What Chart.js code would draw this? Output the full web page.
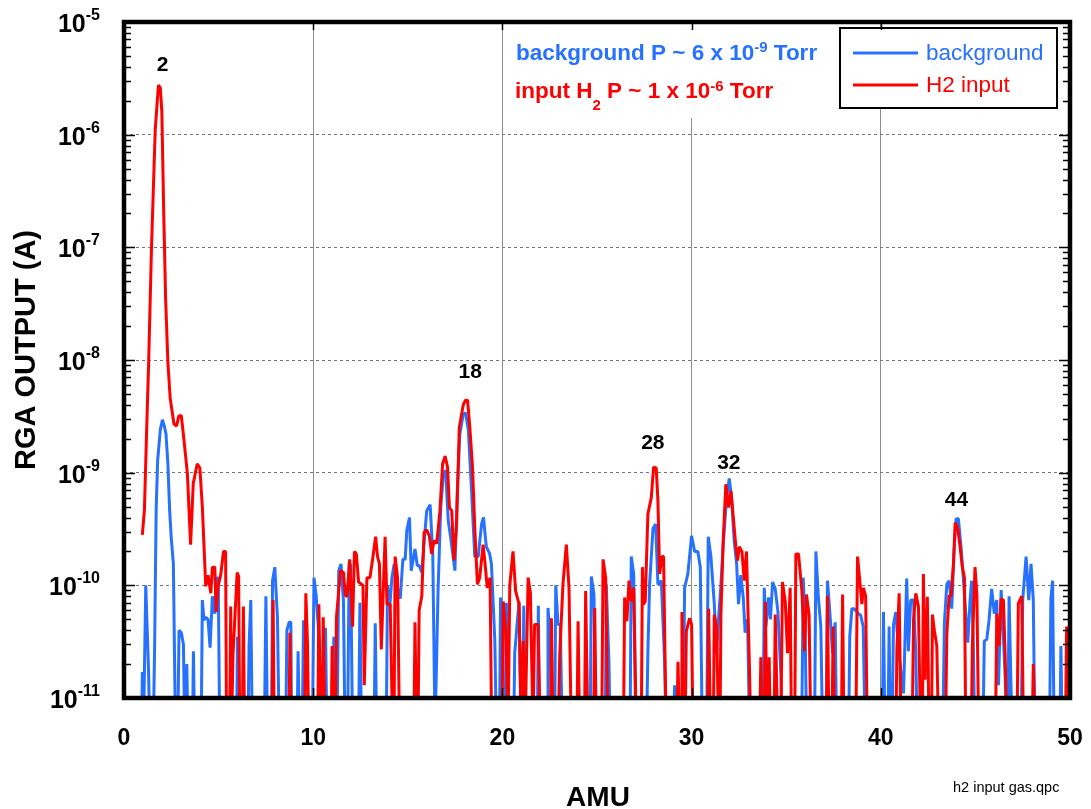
<!DOCTYPE html>
<html>
<head>
<meta charset="utf-8">
<title>RGA output - H2 input gas</title>
<script src="https://cdn.jsdelivr.net/npm/chart.js@4.4.1/dist/chart.umd.min.js"></script>
<style>
  html, body { margin: 0; padding: 0; background: #fff; }
  #wrap { width: 1091px; height: 809px; }
</style>
</head>
<body>
<div id="wrap"><canvas id="rga" width="1091" height="809"></canvas></div>
<script>
'use strict';

// ---- scan data: [AMU, current (A)]; 5e-12 = below the 1e-11 floor ----
const backgroundScan = [
  [0.93,5e-12],[0.97,1.7e-11],[1.03,5e-12],[1.15,1e-10],[1.3,1.7e-11],[1.36,5e-12],[1.55,5e-12],[1.62,3e-11],
  [1.7,4.7e-10],[1.78,1.3e-9],[1.92,2.4e-9],[2.03,2.95e-9],[2.13,2.6e-9],[2.22,2.2e-9],[2.32,1.2e-9],[2.41,4.7e-10],
  [2.5,2.6e-10],[2.61,1.55e-10],[2.72,5e-12],[2.84,5e-12],[2.91,4e-11],[3.03,3.8e-11],[3.14,3e-11],[3.21,5e-12],
  [3.28,5e-12],[3.32,2e-11],[3.38,5e-12],[3.62,5e-12],[3.67,2.6e-11],[3.73,5e-12],[4.08,5e-12],[4.14,7.4e-11],
  [4.23,4.9e-11],[4.32,5.2e-11],[4.44,5e-11],[4.55,2.8e-11],[4.67,8e-11],[4.8,5.6e-11],[4.9,1.17e-10],[4.98,1.15e-10],
  [5.06,5e-12],[5.95,5e-12],[6.0,3.5e-11],[6.06,5e-12],[6.55,5e-12],[6.61,2.9e-11],[6.7,7.4e-11],[6.78,5e-12],
  [7.42,5e-12],[7.5,8e-11],[7.58,5e-12],[7.8,5e-12],[7.85,1.1e-10],[7.97,1.45e-10],[8.11,5.2e-11],[8.2,5e-12],
  [8.55,5e-12],[8.61,4e-11],[8.73,4.7e-11],[8.82,4.7e-11],[8.86,5e-12],[9.15,5e-12],[9.2,2.6e-11],[9.27,5e-12],
  [9.42,5e-12],[9.49,4.9e-11],[9.58,5e-12],[9.96,5e-12],[10.04,1.17e-10],[10.16,8e-11],[10.28,4e-11],[10.36,5e-12],
  [10.58,5e-12],[10.65,4.2e-11],[10.72,5e-12],[11.02,5e-12],[11.09,3.5e-11],[11.16,5e-12],[11.26,5e-12],[11.35,1.35e-10],
  [11.47,1.55e-10],[11.6,7.2e-11],[11.68,5e-12],[11.82,5e-12],[11.9,1.6e-10],[11.98,1.5e-10],[12.08,5e-12],[12.4,5e-12],
  [12.47,7e-11],[12.55,5e-12],[13.22,5e-12],[13.28,4.6e-11],[13.35,5e-12],[13.86,5e-12],[13.93,1e-10],[14.05,6.5e-11],
  [14.16,1.17e-10],[14.28,1.55e-10],[14.42,1e-10],[14.6,7.6e-11],[14.74,1.7e-10],[14.86,1.7e-10],[14.95,3.1e-10],[15.09,4e-10],
  [15.18,1.35e-10],[15.38,2.1e-10],[15.5,1.5e-10],[15.6,1.5e-10],[15.74,1.3e-10],[15.86,2.4e-10],[16.0,4.6e-10],[16.18,5.2e-10],
  [16.32,1.9e-10],[16.44,5e-12],[16.6,9e-11],[16.74,4.9e-10],[16.88,9.8e-10],[17.0,1.05e-9],[17.14,3.7e-10],[17.26,2.7e-10],
  [17.49,1.35e-10],[17.61,6.5e-10],[17.75,2.2e-9],[17.93,3.3e-9],[18.05,3.4e-9],[18.2,2.4e-9],[18.37,6.9e-10],[18.54,1.8e-10],
  [18.72,1.8e-10],[18.9,3.5e-10],[19.0,4e-10],[19.15,2.2e-10],[19.33,1.9e-10],[19.42,1.55e-10],[19.6,3.2e-11],[19.68,5e-12],
  [19.85,5e-12],[19.9,7.8e-11],[19.97,5e-12],[20.14,5e-12],[20.21,7e-11],[20.3,5e-12],[20.6,5e-12],[20.65,2.5e-11],
  [20.88,7.2e-11],[20.98,5e-12],[21.08,5e-12],[21.13,6.6e-11],[21.2,5e-12],[21.85,5e-12],[21.9,6.6e-11],[21.96,5e-12],
  [22.36,5e-12],[22.41,6.3e-11],[22.54,3.2e-11],[22.66,5e-12],[22.76,5e-12],[22.82,1e-10],[22.94,4.5e-11],[23.06,4.5e-11],
  [23.16,5e-12],[24.64,5e-12],[24.7,1.2e-10],[24.84,8.3e-11],[24.93,5e-12],[25.44,5e-12],[25.49,1.02e-10],[25.63,2.1e-11],
  [25.7,5e-12],[26.75,5e-12],[26.81,1.8e-10],[26.94,1.26e-10],[27.05,5e-12],[27.62,5e-12],[27.69,2.6e-11],[27.78,1.02e-10],
  [27.96,3.2e-10],[28.1,3.5e-10],[28.22,1.02e-10],[28.4,1.1e-10],[28.57,2.2e-11],[28.65,5e-12],[29.05,5e-12],[29.1,1.3e-11],
  [29.16,5e-12],[29.55,5e-12],[29.63,9.5e-11],[29.8,1.26e-10],[30.0,2.75e-10],[30.16,2e-10],[30.33,2e-10],[30.46,1.45e-10],
  [30.56,5e-12],[30.8,5e-12],[30.88,2.7e-10],[31.02,1.8e-10],[31.2,6.8e-11],[31.32,2.5e-11],[31.43,5.2e-11],[31.55,1e-10],
  [31.67,2.3e-10],[31.85,6e-10],[31.99,8.9e-10],[32.11,6e-10],[32.25,2.5e-10],[32.38,1.55e-10],[32.48,6.8e-11],[32.6,1.23e-10],
  [32.73,7.8e-11],[32.83,3.8e-11],[32.96,5e-11],[33.06,5e-12],[33.78,5e-12],[33.84,9.5e-11],[33.93,4.3e-11],[34.07,7.8e-11],
  [34.17,5e-11],[34.28,1.07e-10],[34.42,9.3e-11],[34.56,5.9e-11],[34.72,1.6e-11],[34.78,5e-12],[35.82,5e-12],[35.9,1.17e-10],
  [36.0,4e-11],[36.08,5e-12],[36.5,5e-12],[36.57,2e-10],[36.7,7.8e-11],[36.83,4.3e-11],[36.92,5e-12],[37.12,5e-12],
  [37.18,1.1e-10],[37.3,6e-11],[37.45,2.5e-11],[37.59,4.7e-11],[37.66,5e-12],[38.3,5e-12],[38.36,3.5e-11],[38.47,6.2e-11],
  [38.59,6.2e-11],[38.77,5.7e-11],[38.94,5.4e-11],[39.07,4.3e-11],[39.17,5e-12],[40.08,5e-12],[40.14,5.8e-11],[40.22,5e-12],
  [40.38,5e-12],[40.44,4.3e-11],[40.5,5e-12],[40.6,5e-12],[40.67,4.5e-11],[40.79,5.8e-11],[40.95,2.5e-11],[41.2,1.1e-11],
  [41.37,1.15e-10],[41.46,2.6e-11],[41.58,7.4e-11],[41.73,7.4e-11],[41.85,2.5e-11],[41.92,5e-12],[43.28,5e-12],[43.36,4.6e-11],
  [43.49,1.02e-10],[43.61,1.1e-10],[43.75,6.2e-11],[43.87,2e-10],[43.98,3.9e-10],[44.1,3.9e-10],[44.24,2.2e-10],[44.37,1.1e-10],
  [44.49,5.6e-11],[44.6,3.1e-11],[44.72,7.4e-11],[44.8,1.1e-10],[44.89,3e-11],[44.96,5e-12],[45.4,5e-12],[45.47,3.2e-11],
  [45.6,3.3e-11],[45.72,4.9e-11],[45.86,9.3e-11],[46.0,5.6e-11],[46.13,7.4e-11],[46.22,1.3e-11],[46.36,9.1e-11],[46.48,3.5e-11],
  [46.6,1.2e-11],[46.66,5e-12],[46.72,5e-12],[46.78,8e-11],[46.88,1.3e-11],[46.95,5e-12],[47.42,5e-12],[47.5,7.4e-11],
  [47.68,1.8e-10],[47.82,7.4e-11],[47.94,1.55e-10],[48.06,7.4e-11],[48.14,5e-12],[48.92,5e-12],[48.99,7.6e-11],[49.08,1.1e-10],
  [49.16,5e-12],[49.47,5e-12],[49.52,2.9e-11],[49.58,5e-12],[50.0,5e-12]
];

const h2Scan = [
  [0.97,2.8e-10],[1.08,4.7e-10],[1.2,2.5e-9],[1.3,9e-9],[1.45,9.5e-8],[1.65,1.1e-6],[1.82,2.75e-6],[1.92,2.6e-6],
  [2.0,1.6e-6],[2.1,2e-7],[2.2,3.5e-8],[2.32,9.5e-9],[2.44,4.6e-9],[2.64,2.7e-9],[2.78,2.6e-9],[2.9,3.2e-9],
  [3.03,3.2e-9],[3.17,1.95e-9],[3.35,9.8e-10],[3.52,2.3e-10],[3.66,8e-10],[3.87,1.2e-9],[4.01,1.1e-9],[4.14,5e-10],
  [4.32,9.8e-11],[4.44,1.23e-10],[4.59,8.5e-11],[4.67,1.45e-10],[4.8,1.45e-10],[4.87,5.8e-11],[4.97,9.8e-11],[5.11,1.23e-10],
  [5.26,2e-10],[5.37,2e-10],[5.42,5e-12],[5.58,5e-12],[5.64,6.5e-11],[5.68,5e-12],[5.76,2.4e-11],[5.98,1.3e-10],
  [6.06,1.2e-10],[6.12,5e-12],[6.26,5e-12],[6.31,6.5e-11],[6.37,5e-12],[7.82,5e-12],[7.88,7.4e-11],[7.94,5e-12],
  [8.72,5e-12],[8.77,3.8e-11],[8.82,5e-12],[9.55,5e-12],[9.61,8.5e-11],[9.7,3e-11],[9.76,5e-12],[10.24,5e-12],
  [10.3,6.8e-11],[10.4,5e-12],[10.48,5e-12],[10.53,5.2e-11],[10.62,5e-12],[10.95,5e-12],[11.0,2.9e-11],[11.06,5e-12],
  [11.16,5e-12],[11.23,5.2e-11],[11.44,1.35e-10],[11.6,1.3e-10],[11.7,8.1e-11],[11.79,8e-11],[11.93,1.7e-10],[12.08,4.3e-11],
  [12.18,2e-10],[12.28,1.9e-10],[12.4,1.07e-10],[12.63,1e-10],[12.7,1.3e-11],[12.84,1.17e-10],[13.0,1.17e-10],[13.16,1.8e-10],
  [13.3,2.7e-10],[13.4,1.8e-10],[13.5,1.55e-10],[13.6,2.7e-11],[13.8,2.7e-10],[13.9,6.8e-11],[14.07,6.8e-11],[14.2,5e-12],
  [14.27,5e-12],[14.33,1.8e-10],[14.46,1.17e-10],[14.56,5e-12],[15.32,5e-12],[15.38,4.7e-11],[15.46,5e-12],[15.54,5e-12],
  [15.6,6e-11],[15.74,8e-11],[15.86,2.95e-10],[16.0,3.1e-10],[16.14,2.75e-10],[16.26,1.9e-10],[16.39,2.5e-10],[16.53,2.35e-10],
  [16.7,4.6e-10],[16.84,1.2e-9],[16.97,1.4e-9],[17.1,1.12e-9],[17.2,4.9e-10],[17.32,4.6e-10],[17.44,1.66e-10],[17.58,3.5e-10],
  [17.72,2.5e-9],[17.93,4e-9],[18.05,4.4e-9],[18.16,4.4e-9],[18.28,2.5e-9],[18.42,1.12e-9],[18.54,3.2e-10],[18.68,1.02e-10],
  [18.8,1.17e-10],[18.98,2.3e-10],[19.1,1.45e-10],[19.2,9.5e-11],[19.35,1.17e-10],[19.43,5e-12],[19.98,5e-12],[20.04,7.2e-11],
  [20.18,4.2e-11],[20.3,5e-12],[20.39,1e-10],[20.56,2e-10],[20.7,8.9e-11],[20.88,6.8e-11],[21.0,5e-12],[21.1,3.2e-11],
  [21.2,5e-12],[21.36,1.17e-10],[21.48,8.5e-11],[21.62,5e-12],[21.7,4.5e-11],[21.88,4.5e-11],[22.0,5e-12],[22.54,5e-12],
  [22.59,5.1e-11],[22.68,5e-12],[22.95,5e-12],[23.03,2.4e-11],[23.2,1.02e-10],[23.38,2.3e-10],[23.52,9.5e-11],[23.64,5e-12],
  [23.94,5e-12],[24.0,4.8e-11],[24.08,5e-12],[24.34,5e-12],[24.4,8.9e-11],[24.52,5e-12],[24.82,5e-12],[24.88,6.3e-11],
  [24.96,5e-12],[25.25,5e-12],[25.32,1.7e-10],[25.46,1.17e-10],[25.58,5e-12],[26.4,5e-12],[26.46,7.8e-11],[26.58,4.8e-11],
  [26.69,1.1e-10],[26.81,7.2e-11],[26.94,9.5e-11],[27.08,5e-12],[27.34,5e-12],[27.4,1.45e-10],[27.46,6.8e-11],[27.55,7.2e-11],
  [27.69,4.3e-10],[27.87,6e-10],[27.99,1.12e-9],[28.13,1.1e-9],[28.22,5.6e-10],[28.31,1.26e-10],[28.43,1.8e-10],[28.52,1.8e-10],
  [28.59,2.6e-11],[28.66,5e-12],[29.22,5e-12],[29.28,2.1e-11],[29.37,5e-12],[29.44,5e-12],[29.49,5.8e-11],[29.56,5e-12],
  [29.66,5e-12],[29.72,3.9e-11],[29.89,5.1e-11],[30.0,4.5e-11],[30.07,5e-12],[30.84,5e-12],[30.9,6.2e-11],[31.0,5e-12],
  [31.15,5e-12],[31.2,5.5e-11],[31.32,4.2e-11],[31.43,5e-12],[31.5,5e-12],[31.55,5.5e-11],[31.67,2.5e-10],[31.81,7.9e-10],
  [31.95,4.9e-10],[32.08,6.9e-10],[32.2,4.1e-10],[32.34,2.2e-10],[32.43,1.66e-10],[32.52,2.2e-10],[32.66,2e-10],[32.78,1.1e-10],
  [32.9,2e-10],[33.05,2.1e-11],[33.13,5e-12],[33.6,5e-12],[33.66,2.3e-11],[33.72,5e-12],[33.85,5e-12],[33.9,7.1e-11],
  [33.98,5e-12],[34.06,5e-12],[34.1,2.3e-11],[34.16,5e-12],[34.36,5e-12],[34.42,5.5e-11],[34.55,5e-12],[34.72,5e-12],
  [34.8,1.07e-10],[34.95,7.2e-11],[35.07,2.5e-11],[35.21,9.5e-11],[35.28,5e-12],[35.45,5e-12],[35.51,1.9e-10],[35.65,1.9e-10],
  [35.83,8.9e-11],[35.97,2.6e-11],[36.07,8.3e-11],[36.21,5.5e-11],[36.3,5e-12],[37.12,5e-12],[37.18,8.1e-11],[37.26,5e-12],
  [37.42,5e-12],[37.48,4.3e-11],[37.55,5e-12],[37.92,5e-12],[37.98,8.3e-11],[38.05,5e-12],[38.68,5e-12],[38.77,1.8e-10],
  [38.89,1.1e-10],[39.0,6.8e-11],[39.08,9.5e-11],[39.2,8e-11],[39.28,5e-12],[40.8,5e-12],[40.85,2.7e-11],[40.97,8.5e-11],
  [41.07,5e-12],[41.66,5e-12],[41.73,4.9e-11],[41.85,8.5e-11],[41.99,6.5e-11],[42.1,5e-12],[42.2,5e-12],[42.25,1.26e-10],
  [42.34,1.45e-11],[42.46,7.9e-11],[42.55,5e-12],[42.68,5e-12],[42.73,5.5e-11],[42.83,4e-11],[42.96,2.9e-11],[43.05,5e-12],
  [43.42,5e-12],[43.49,3.7e-11],[43.61,8.1e-11],[43.72,8.1e-11],[43.84,1.55e-10],[43.93,3.6e-10],[44.07,3.2e-10],[44.19,2.2e-10],
  [44.31,1.45e-10],[44.42,1.17e-10],[44.49,5e-12],[44.78,5e-12],[44.84,2.9e-11],[44.98,1.45e-10],[45.08,8.1e-11],[45.17,5e-12],
  [46.06,5e-12],[46.13,5.6e-11],[46.25,2.9e-11],[46.36,7.6e-11],[46.48,7.4e-11],[46.57,2.5e-11],[46.66,5e-12],[47.2,5e-12],
  [47.27,6.9e-11],[47.45,8e-11],[47.54,5e-12],[48.0,5e-12],[48.06,2e-11],[48.15,5e-12],[49.76,5e-12],[49.82,4.3e-11],
  [49.9,5e-12]
];

const seriesNames = ['background', 'H2 input'];
const amuTicks = [0, 10, 20, 30, 40, 50];
const decadeExps = [-5, -6, -7, -8, -9, -10, -11];

// peak annotations (label text, AMU, label height in A)
const peakNames = ['2', '18', '28', '32', '44'];
const peakAmu = [2.04, 18.3, 27.95, 31.97, 44.0];
const peakLabelAt = [4.1e-6, 7.8e-9, 1.84e-9, 1.22e-9, 5.7e-10];

const BLUE = '#2672ff';
const RED = '#ff0000';
const FONT = '"Liberation Sans", Arial, Helvetica, sans-serif';

// draw a run of text pieces (normal / superscript / subscript)
function richText(ctx, parts, x, y, color) {
  ctx.fillStyle = color;
  ctx.textBaseline = 'alphabetic';
  ctx.textAlign = 'left';
  parts.forEach(p => {
    ctx.font = p.font;
    ctx.fillText(p.t, x, y + (p.dy || 0));
    x += ctx.measureText(p.t).width;
  });
}

const overlay = {
  id: 'overlay',
  afterDraw(chart) {
    const { ctx, chartArea: a } = chart;
    const xs = chart.scales.x, ys = chart.scales.y;
    ctx.save();

    // white box behind the pressure notes
    ctx.fillStyle = '#fff';
    ctx.fillRect(508, a.top + 2, 324, 94);

    const big = 'bold 22.5px ' + FONT, sup = 'bold 15px ' + FONT;
    richText(ctx, [
      { t: 'background P ~ 6 x 10', font: big },
      { t: '-9', font: sup, dy: -8 },
      { t: ' Torr', font: big }
    ], 516, 60, BLUE);
    richText(ctx, [
      { t: 'input H', font: big },
      { t: '2', font: sup, dy: 12 },
      { t: ' P ~ 1 x 10', font: big },
      { t: '-6', font: sup, dy: -7 },
      { t: ' Torr', font: big }
    ], 515, 98, RED);

    // legend
    ctx.fillStyle = '#fff';
    ctx.fillRect(840, 28, 217, 80);
    ctx.strokeStyle = '#000';
    ctx.lineWidth = 2;
    ctx.strokeRect(840, 28, 217, 80);
    [BLUE, RED].forEach((c, i) => {
      const ly = 53 + i * 32;
      ctx.strokeStyle = c;
      ctx.lineWidth = 3;
      ctx.beginPath(); ctx.moveTo(853, ly); ctx.lineTo(918, ly); ctx.stroke();
      ctx.fillStyle = c;
      ctx.font = '22.5px ' + FONT;
      ctx.textBaseline = 'middle';
      ctx.textAlign = 'left';
      ctx.fillText(seriesNames[i], 926, ly + 1);
    });

    // frame
    ctx.strokeStyle = '#000';
    ctx.lineWidth = 4.5;
    ctx.strokeRect(a.left, a.top, a.right - a.left, a.bottom - a.top);

    // log ticks on left and right edges, AMU ticks top and bottom
    ctx.lineWidth = 1.5;
    ctx.beginPath();
    for (let e = -11; e < -5; e++) {
      for (let m = 1; m <= 9; m++) {
        const py = Math.round(ys.getPixelForValue(m * Math.pow(10, e))) + 0.5;
        const len = m === 1 ? 11 : 7;
        ctx.moveTo(a.left, py); ctx.lineTo(a.left + len, py);
        ctx.moveTo(a.right, py); ctx.lineTo(a.right - len, py);
      }
    }
    amuTicks.slice(1, -1).forEach(v => {
      const px = Math.round(xs.getPixelForValue(v)) + 0.5;
      ctx.moveTo(px, a.bottom); ctx.lineTo(px, a.bottom - 10);
      ctx.moveTo(px, a.top); ctx.lineTo(px, a.top + 8);
    });
    ctx.stroke();

    // y tick labels 10^n
    ctx.fillStyle = '#000';
    ctx.textAlign = 'left';
    ctx.textBaseline = 'alphabetic';
    decadeExps.forEach(e => {
      const py = ys.getPixelForValue(Math.pow(10, e));
      const s = String(e);
      ctx.font = 'bold 16px ' + FONT;
      const sw = ctx.measureText(s).width;
      ctx.font = 'bold 25px ' + FONT;
      const bw = ctx.measureText('10').width;
      ctx.fillText('10', 100 - sw - bw, py + 10);
      ctx.font = 'bold 16px ' + FONT;
      ctx.fillText(s, 100 - sw, py - 2);
    });

    // axis titles
    ctx.font = 'bold 29px ' + FONT;
    ctx.textAlign = 'center';
    ctx.textBaseline = 'middle';
    ctx.save();
    ctx.translate(27, 350);
    ctx.rotate(-Math.PI / 2);
    ctx.fillText('RGA OUTPUT (A)', 0, 0);
    ctx.restore();
    ctx.font = 'bold 28px ' + FONT;
    ctx.textBaseline = 'alphabetic';
    ctx.fillText('AMU', 598, 806);
    ctx.font = '14.5px ' + FONT;
    ctx.textAlign = 'left';
    ctx.textBaseline = 'middle';
    ctx.fillText('h2 input gas.qpc', 953, 788);

    // peak labels
    ctx.font = 'bold 21px ' + FONT;
    ctx.textAlign = 'center';
    ctx.textBaseline = 'middle';
    peakNames.forEach((t, i) => {
      ctx.fillText(t, xs.getPixelForValue(peakAmu[i]), ys.getPixelForValue(peakLabelAt[i]));
    });
    ctx.restore();
  }
};

const isDecade = v => Math.abs(Math.log10(v) - Math.round(Math.log10(v))) < 1e-6;

new Chart(document.getElementById('rga'), {
  type: 'line',
  data: {
    datasets: [
      {
        label: seriesNames[1],
        data: h2Scan.map(p => ({ x: p[0], y: p[1] })),
        borderColor: RED, borderWidth: 3, pointRadius: 0,
        borderJoinStyle: 'bevel', tension: 0, clip: 0, order: 0
      },
      {
        label: seriesNames[0],
        data: backgroundScan.map(p => ({ x: p[0], y: p[1] })),
        borderColor: BLUE, borderWidth: 3, pointRadius: 0,
        borderJoinStyle: 'bevel', tension: 0, clip: 0, order: 1
      }
    ]
  },
  options: {
    responsive: false,
    animation: false,
    devicePixelRatio: 1,
    layout: { padding: { left: 0, right: 21, top: 22, bottom: 0 } },
    plugins: { legend: { display: false }, tooltip: { enabled: false } },
    scales: {
      x: {
        type: 'linear', min: 0, max: 50,
        afterFit: s => { s.height = 111; s.paddingLeft = 0; s.paddingRight = 0; },
        afterBuildTicks: s => { s.ticks = amuTicks.map(v => ({ value: v })); },
        ticks: { font: { family: FONT, size: 23, weight: 'bold' }, color: '#000', padding: 27, maxRotation: 0 },
        grid: {
          drawTicks: false, lineWidth: 1,
          color: c => (c.tick && c.tick.value > 0 && c.tick.value < 50) ? '#8c8c8c' : 'transparent'
        },
        border: { display: false }
      },
      y: {
        type: 'logarithmic', min: 1e-11, max: 1e-5,
        afterFit: s => { s.width = 124; s.paddingTop = 0; s.paddingBottom = 0; },
        ticks: { display: false },
        grid: {
          drawTicks: false, lineWidth: 1,
          color: c => (c.tick && isDecade(c.tick.value) && c.tick.value > 1e-11 && c.tick.value < 1e-5) ? '#777' : 'transparent'
        },
        border: { display: false, dash: [3, 3] }
      }
    }
  },
  plugins: [overlay]
});
</script>
</body>
</html>
